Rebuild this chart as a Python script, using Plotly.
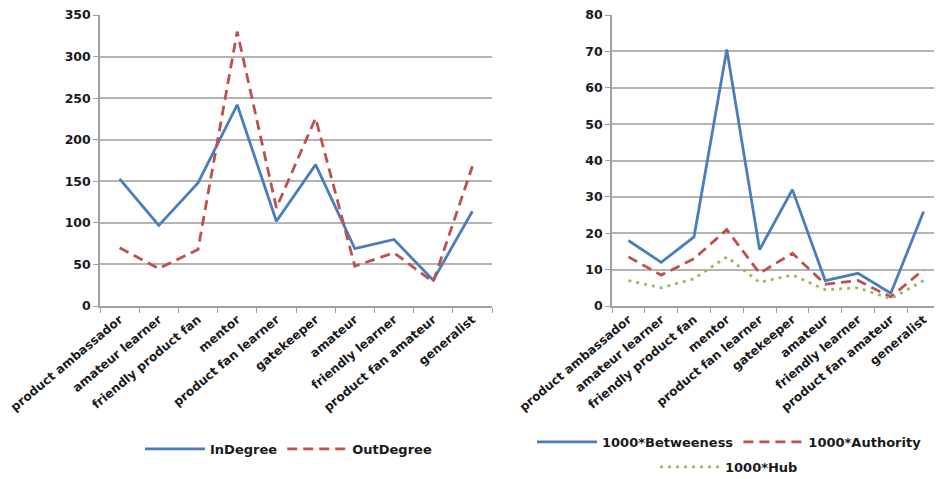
import plotly.graph_objects as go

categories = ["product ambassador", "amateur learner", "friendly product fan", "mentor",
              "product fan learner", "gatekeeper", "amateur", "friendly learner",
              "product fan amateur", "generalist"]
in_degree = [153, 97, 148, 242, 102, 170, 69, 80, 31, 114]
out_degree = [70, 45, 68, 330, 118, 226, 48, 64, 29, 168]
betweeness = [18, 12, 19, 70.5, 15.5, 32, 7, 9, 3.5, 26]
authority = [13.5, 8.5, 13, 21, 9, 14.5, 6, 7, 2.5, 10]
hub = [7, 5, 7.5, 13.5, 6.5, 8.5, 4.5, 5, 2, 7]

BLUE = "#4A7EBB"
RED = "#C0504D"
GREEN = "#9BBB59"
DASH = "10px,6px"
DOT = "3px,5px"
XFONT = dict(family="DejaVu Sans", size=12.2, color="#1a1a1a", weight="bold")
YFONT = dict(family="DejaVu Sans", size=12.5, color="#1a1a1a", weight="bold")

fig = go.Figure()
fig.add_trace(go.Scatter(x=categories, y=in_degree, name="InDegree", mode="lines",
                         line=dict(color=BLUE, width=2.8), xaxis="x", yaxis="y", legend="legend"))
fig.add_trace(go.Scatter(x=categories, y=out_degree, name="OutDegree", mode="lines",
                         line=dict(color=RED, width=2.8, dash=DASH), xaxis="x", yaxis="y", legend="legend"))
fig.add_trace(go.Scatter(x=categories, y=betweeness, name="1000*Betweeness", mode="lines",
                         line=dict(color=BLUE, width=2.8), xaxis="x2", yaxis="y2", legend="legend2"))
fig.add_trace(go.Scatter(x=categories, y=authority, name="1000*Authority", mode="lines",
                         line=dict(color=RED, width=2.8, dash=DASH), xaxis="x2", yaxis="y2", legend="legend2"))
fig.add_trace(go.Scatter(x=categories, y=hub, name="1000*Hub", mode="lines",
                         line=dict(color=GREEN, width=2.8, dash=DOT), xaxis="x2", yaxis="y2", legend="legend3"))

# page body has an 8px margin: figure is sized to fit the 942x479 window
OFF = 8
W, H = 942 - OFF, 479 - OFF
def px_x(p): return (p - OFF) / W
def px_y(p): return 1 - (p - OFF) / H

xcommon = dict(type="category", range=[-0.5, 9.5], tickangle=-40, tickson="boundaries",
               ticks="outside", ticklen=5, tickcolor="#a0a0a0", showline=True,
               linecolor="#a0a0a0", linewidth=1.5, showgrid=False, tickfont=XFONT,
               fixedrange=True, automargin=False, ticklabeloverflow="allow")
ycommon = dict(showline=True, linecolor="#a0a0a0", linewidth=1.5, ticks="outside", ticklen=5,
               tickcolor="#a0a0a0", gridcolor="#b4b4b4", gridwidth=1.5, tickfont=YFONT,
               zeroline=False, fixedrange=True, automargin=False, ticklabeloverflow="allow")

leg_common = dict(orientation="h", font=dict(family="DejaVu Sans", size=13, color="#1a1a1a", weight="bold"),
                  bgcolor="rgba(0,0,0,0)", xanchor="left", yanchor="middle", itemwidth=60)

fig.update_layout(
    width=W, height=H, margin=dict(l=0, r=0, t=0, b=0, autoexpand=False),
    paper_bgcolor="white", plot_bgcolor="white",
    xaxis=dict(xcommon, domain=[px_x(100), px_x(492)], anchor="y"),
    yaxis=dict(ycommon, domain=[px_y(306), px_y(15)], range=[0, 350], dtick=50, anchor="x"),
    xaxis2=dict(xcommon, domain=[px_x(612), min(1, px_x(940))], anchor="y2"),
    yaxis2=dict(ycommon, domain=[px_y(306), px_y(15)], range=[0, 80], dtick=10, anchor="x2"),
    legend=dict(leg_common, x=px_x(140), y=px_y(449)),
    legend2=dict(leg_common, x=px_x(532), y=px_y(442)),
    legend3=dict(leg_common, x=px_x(655), y=px_y(467)),
    showlegend=True,
)

fig.write_html("out.html")
